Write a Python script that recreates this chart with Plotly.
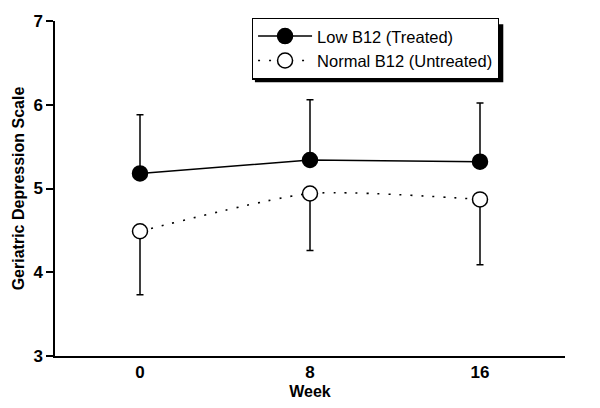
import plotly.graph_objects as go

weeks = [0, 8, 16]
low_b12 = [5.18, 5.34, 5.32]
low_b12_err_up = [0.70, 0.72, 0.70]
normal_b12 = [4.49, 4.94, 4.87]
normal_b12_err_down = [0.76, 0.68, 0.78]
x_ticks = [0, 8, 16]
y_ticks = [3, 4, 5, 6, 7]

FONT = "Liberation Sans, Arial, Helvetica, sans-serif"

fig = go.Figure()
fig.add_trace(go.Scatter(
    x=weeks, y=low_b12, mode="lines+markers", name="Low B12 (Treated)",
    line=dict(color="black", width=1.6),
    marker=dict(symbol="circle", size=15, color="black", line=dict(color="black", width=1.5)),
    error_y=dict(type="data", symmetric=False, array=low_b12_err_up,
                 arrayminus=[0, 0, 0], color="black", thickness=1.5, width=3.5),
))
fig.add_trace(go.Scatter(
    x=weeks, y=normal_b12, mode="lines+markers", name="Normal B12 (Untreated)",
    line=dict(color="black", width=1.6, dash="2px,9px", shape="spline", smoothing=0.6),
    marker=dict(symbol="circle", size=15, color="white", line=dict(color="black", width=1.5)),
    error_y=dict(type="data", symmetric=False, array=[0, 0, 0],
                 arrayminus=normal_b12_err_down, color="black", thickness=1.5, width=3.5),
))

# page body has an 8px default margin, so the margins are shifted to compensate
fig.update_layout(
    width=600, height=408,
    margin=dict(l=47, r=43, t=10, b=60),
    paper_bgcolor="white", plot_bgcolor="white",
    font=dict(family=FONT, color="black"),
    showlegend=True,
    legend=dict(x=0.386, y=1.01, xanchor="left", yanchor="top",
                bgcolor="white", bordercolor="black", borderwidth=1.2,
                font=dict(size=16.5, family=FONT), tracegroupgap=0,
                itemwidth=54),
    xaxis=dict(range=[-4, 20], tickvals=x_ticks, ticktext=[f"<b>{t}</b>" for t in x_ticks],
               showgrid=False, zeroline=False, showline=True, linecolor="black",
               linewidth=1.5, ticks="", tickfont=dict(size=17, family=FONT),
               automargin=False,
               title=dict(text="<b>Week</b>", font=dict(size=16, family=FONT), standoff=5)),
    yaxis=dict(range=[3, 7], tickvals=y_ticks, ticktext=[f"<b>{t}</b>" for t in y_ticks],
               showgrid=False, zeroline=False, showline=True, linecolor="black",
               linewidth=1.5, ticks="outside", ticklen=7, tickwidth=1.5, tickcolor="black",
               tickfont=dict(size=17, family=FONT), automargin=False,
               title=dict(text="<b>Geriatric Depression Scale</b>", font=dict(size=16, family=FONT), standoff=5)),
    shapes=[dict(type="rect", xref="paper", yref="paper",
                 x0=0.392, x1=0.879, y0=0.817, y1=0.99,
                 fillcolor="black", line=dict(width=0), layer="above")],
)

fig.write_html("out.html")
